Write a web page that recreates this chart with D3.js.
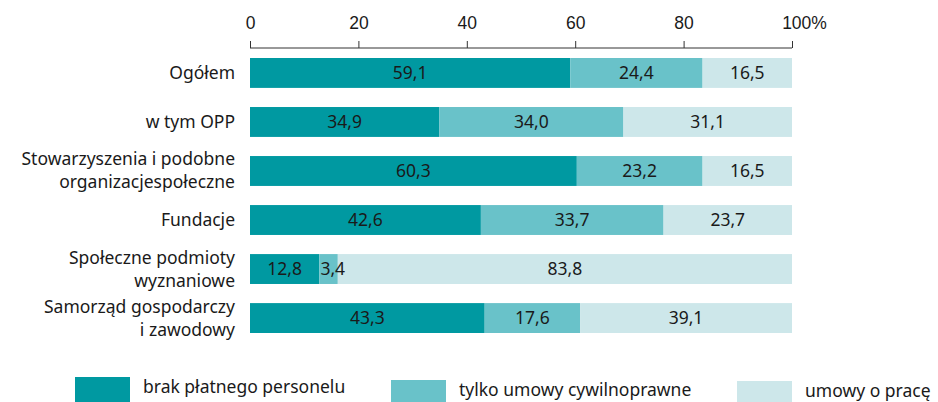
<!DOCTYPE html>
<html>
<head>
<meta charset="utf-8">
<script src="https://cdn.jsdelivr.net/npm/d3@7"></script>
<style>
  body { margin: 0; background: #fff; }
  svg { font-family: "Noto Sans", "Open Sans", sans-serif; }
</style>
</head>
<body>
<svg id="chart" width="938" height="402"></svg>
<script>
const categories = [
    ["Ogółem"],
    ["w tym OPP"],
    ["Stowarzyszenia i podobne", "organizacjespołeczne"],
    ["Fundacje"],
    ["Społeczne podmioty", "wyznaniowe"],
    ["Samorząd gospodarczy", "i zawodowy"]
];
const seriesNames = ["brak płatnego personelu", "tylko umowy cywilnoprawne", "umowy o pracę"];
const brak = [59.1, 34.9, 60.3, 42.6, 12.8, 43.3];
const cywilne = [24.4, 34.0, 23.2, 33.7, 3.4, 17.6];
const umowyPraca = [16.5, 31.1, 16.5, 23.7, 83.8, 39.1];
const tickValues = [0, 20, 40, 60, 80, 100];
const colors = ["#0099a1", "#69c2c9", "#cde7ea"];

const fs = "17.5px";
const svg = d3.select("#chart");
const x = d3.scaleLinear().domain([0, 100]).range([250, 792]);
const y = d3.scaleBand().domain(d3.range(categories.length)).range([58, 333]).paddingInner(0.39).paddingOuter(0);

// axis on top
const axis = svg.append("g")
    .attr("transform", "translate(0,48)")
    .call(d3.axisTop(x).tickValues(tickValues).tickSize(7).tickFormat(d => d === 100 ? "100%" : d));
axis.select(".domain").attr("stroke", "#333").attr("d", "M250,0H792");
axis.selectAll(".tick line").attr("stroke", "#333");
axis.selectAll(".tick text")
    .attr("fill", "#1a1a1a")
    .style("font-size", fs)
    .attr("y", -19);
axis.selectAll(".tick text").filter(d => d === 100).attr("dx", "12");

const rows = categories.map((c, i) => [brak[i], cywilne[i], umowyPraca[i]]);
const barLayer = svg.append("g");
const labelLayer = svg.append("g");

rows.forEach((vals, i) => {
    let acc = 0;
    vals.forEach((v, k) => {
        const x0 = x(acc), x1 = x(acc + v);
        barLayer.append("rect")
            .attr("x", x0)
            .attr("y", y(i))
            .attr("width", x1 - x0)
            .attr("height", y.bandwidth())
            .attr("fill", colors[k]);
        let tx = (x0 + x1) / 2;
        let anchor = "middle";
        if (v < 5) { tx = x0 + 1; anchor = "start"; }
        labelLayer.append("text")
            .attr("x", tx)
            .attr("y", y(i) + y.bandwidth() / 2 + 6)
            .attr("text-anchor", anchor)
            .attr("fill", "#1a1a1a")
            .style("font-size", fs)
            .text(d3.format(".1f")(v).replace(".", ","));
        acc += v;
    });
    // category labels
    const lines = categories[i];
    const cy = y(i) + y.bandwidth() / 2;
    lines.forEach((ln, j) => {
        labelLayer.append("text")
            .attr("x", 235)
            .attr("y", cy + 6 + (j - (lines.length - 1) / 2) * 23)
            .attr("text-anchor", "end")
            .attr("fill", "#1a1a1a")
            .style("font-size", fs)
            .text(ln);
    });
});

// legend
const legendX = [75, 391, 737];
const legendY = [377, 380, 381];
seriesNames.forEach((name, k) => {
    svg.append("rect")
        .attr("x", legendX[k])
        .attr("y", legendY[k])
        .attr("width", 55)
        .attr("height", 30)
        .attr("fill", colors[k]);
    svg.append("text")
        .attr("x", legendX[k] + 68)
        .attr("y", legendY[k] + 16)
        .attr("fill", "#1a1a1a")
        .style("font-size", fs)
        .text(name);
});
</script>
</body>
</html>
